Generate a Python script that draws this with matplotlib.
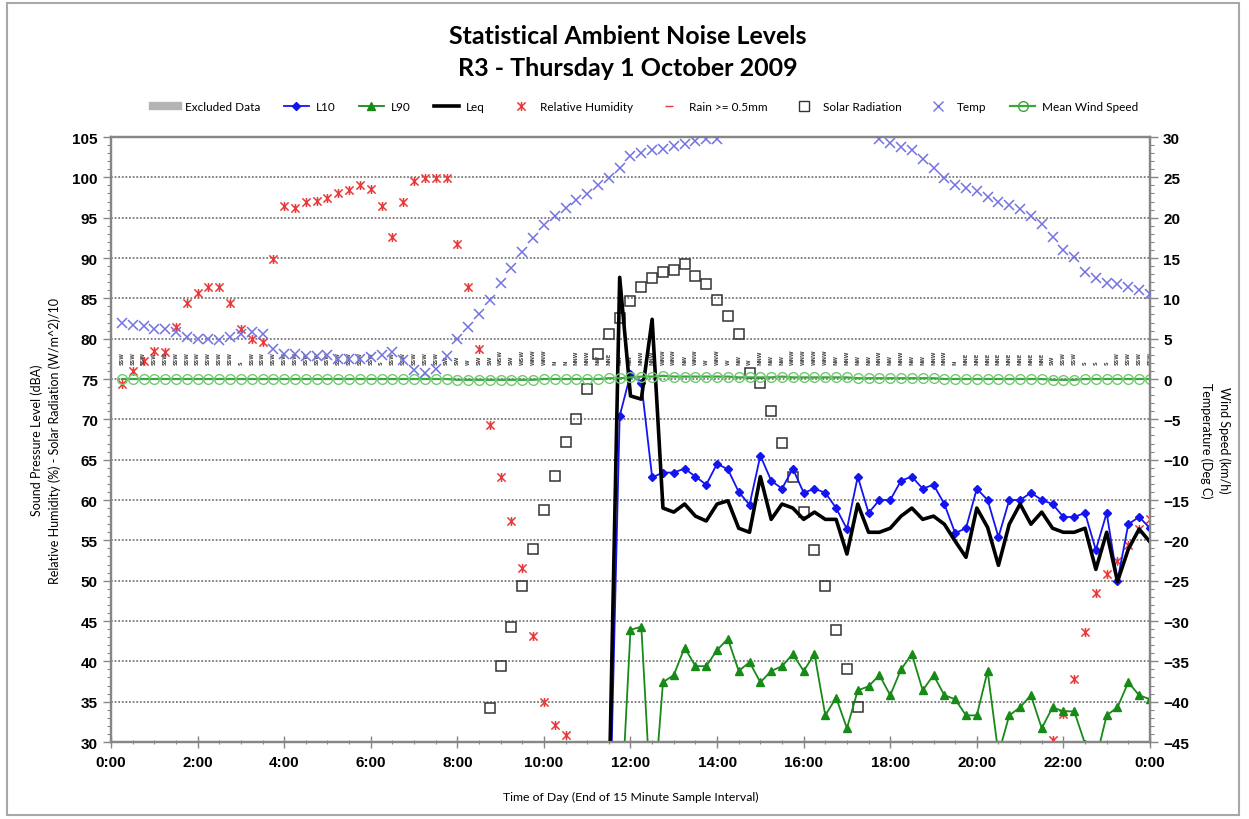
import numpy as np
import matplotlib
matplotlib.use("Agg")
import matplotlib.pyplot as plt
from matplotlib.lines import Line2D
from matplotlib.patches import Rectangle
from matplotlib.path import Path
from matplotlib.ticker import MultipleLocator, FuncFormatter

nan = np.nan

# end of each 15 minute sample interval, in hours (0:15 ... 24:00)
times = [0.25 * i for i in range(1, 97)]

l10 = [nan] * 45 + [15.0, 70.4, 75.6, 74.5,
    62.8, 63.4, 63.4, 63.9, 62.9, 61.9, 64.5, 63.8, 61.0, 59.4,
    65.5, 62.4, 61.4, 63.9, 60.9, 61.4, 60.9, 59.0, 56.4, 62.9,
    58.4, 60.0, 60.0, 62.4, 62.9, 61.4, 61.9, 59.5, 55.9, 56.5,
    61.4, 60.0, 55.4, 60.0, 60.0, 60.9, 60.0, 59.5, 57.9, 57.9,
    58.4, 53.8, 58.4, 50.0, 57.0, 57.9, 56.5]

leq = [nan] * 45 + [22.0, 87.6, 72.9, 72.5, 82.4,
    59.0, 58.5, 59.5, 58.0, 57.4, 59.5, 59.9, 56.5, 56.0,
    62.9, 57.6, 59.5, 59.0, 57.6, 58.5, 57.6, 57.6, 53.3, 59.5,
    56.0, 56.0, 56.5, 58.0, 59.0, 57.6, 58.0, 57.0, 54.9, 52.9,
    59.0, 56.6, 51.9, 57.0, 59.5, 57.0, 58.5, 56.5, 56.0, 56.0,
    56.5, 51.4, 56.0, 49.9, 53.9, 56.4, 54.8]

l90 = [nan] * 46 + [18.0, 43.9, 44.3, 20.0,
    37.4, 38.3, 41.7, 39.4, 39.4, 41.4, 42.8, 38.8, 39.9,
    37.4, 38.8, 39.4, 40.9, 38.8, 40.9, 33.3, 35.5, 31.7, 36.4,
    36.9, 38.3, 35.8, 39.0, 40.9, 36.4, 38.3, 35.8, 35.3, 33.3,
    33.3, 38.8, 28.5, 33.3, 34.3, 35.8, 31.7, 34.3, 33.8, 33.8,
    29.8, 27.8, 33.3, 34.3, 37.4, 35.8, 35.3]

humidity = [
    74.4, 76.0, 77.2, 78.5, 78.4, 81.5, 84.4, 85.7, 86.4, 86.4, 84.4, 81.2,
    80.0, 79.6, 89.9, 96.4, 96.2, 96.9, 97.1, 97.4, 98.0, 98.4, 99.0, 98.6,
    96.4, 92.6, 97.0, 99.5, 99.9, 99.9, 99.9, 91.7, 86.4, 78.7, 69.3, 62.8,
    57.4, 51.6, 43.2, 35.0, 32.1, 30.9,
    29.0, 28.0, 27.2, 26.5, 26.0, 25.5, 25.0, 24.6, 24.3, 24.0, 23.8, 23.6,
    23.5, 23.4, 23.3, 23.3, 23.4, 23.5, 23.6, 23.8, 24.0, 24.2, 24.4, 24.6,
    24.8, 25.0, 25.2, 25.4, 25.6, 25.8, 26.0, 26.1, 26.2, 26.3, 26.4, 26.5,
    26.6, 26.7, 26.8, 27.0, 27.2, 27.5, 27.8, 28.2,
    30.2, 33.5, 37.8, 43.6, 48.5, 50.8, 52.5, 54.4, 56.4, 57.6]

solar = [
    0, 0, 0, 0, 0, 0, 0, 0, 0, 0, 0, 0, 0, 0, 0, 0, 0, 0, 0, 0, 0, 0, 0, 0,
    0, 0, 0.5, 2.0, 4.5, 8.0, 12.0, 17.0, 22.0, 28.0, 34.2, 39.4, 44.2, 49.3,
    53.9, 58.7, 63.0, 67.2, 70.0, 73.7, 78.1, 80.6, 82.6, 84.7, 86.4, 87.5,
    88.3, 88.5, 89.2, 87.8, 86.8, 84.8, 82.8, 80.6, 75.7, 74.5, 71.0, 67.1,
    62.8, 58.5, 53.8, 49.3, 43.9, 39.1, 34.3, 28.0, 23.0, 18.0, 13.0, 9.0,
    5.0, 2.5, 1.0, 0.3, 0, 0, 0, 0, 0, 0, 0, 0, 0, 0, 0, 0, 0, 0, 0, 0, 0, 0]

temp = [
    6.9, 6.7, 6.6, 6.2, 6.2, 5.8, 5.2, 5.0, 5.0, 4.8, 5.2, 5.6,
    5.8, 5.6, 3.7, 3.1, 3.1, 2.9, 2.9, 3.0, 2.5, 2.5, 2.5, 2.7,
    3.0, 3.3, 2.4, 1.1, 0.8, 1.3, 2.9, 5.0, 6.4, 8.1, 9.8, 11.9,
    13.8, 15.7, 17.5, 19.1, 20.2, 21.2, 22.2, 22.9, 24.0, 24.9, 26.2, 27.6,
    28.0, 28.4, 28.5, 28.9, 29.1, 29.5, 29.7, 29.7,
    30.8, 31.2, 31.7, 32.1, 32.4, 32.6, 32.7, 32.6, 32.4, 32.1, 31.7, 31.3,
    30.9, 30.6,
    29.7, 29.3, 28.8, 28.4, 27.3, 26.2, 24.9, 24.0, 23.7, 23.3, 22.6, 22.0,
    21.6, 21.1, 20.2, 19.2, 17.6, 16.0, 15.1, 13.3, 12.5, 11.9, 11.8, 11.4,
    11.0, 10.5]

wind_speed = [
    0.0, 0.0, 0.0, 0.0, 0.0, 0.0, 0.0, 0.0, 0.0, 0.0, 0.0, 0.0,
    0.0, 0.0, 0.0, 0.0, 0.0, 0.0, 0.0, 0.0, 0.0, 0.0, 0.0, 0.0,
    0.0, 0.0, 0.0, 0.0, 0.0, 0.0, 0.0, -0.1, -0.1, -0.1, -0.1, -0.1,
    -0.1, -0.1, -0.1, 0.0, 0.0, 0.0, 0.0, 0.0, 0.0, 0.1, 0.1, 0.2,
    0.3, 0.3, 0.4, 0.3, 0.3, 0.3, 0.3, 0.3, 0.3, 0.2, 0.2, 0.2,
    0.2, 0.3, 0.2, 0.2, 0.2, 0.2, 0.2, 0.2, 0.1, 0.1, 0.1, 0.1,
    0.1, 0.1, 0.1, 0.1, 0.0, 0.0, 0.0, 0.0, 0.0, 0.0, 0.0, 0.0,
    0.0, 0.0, -0.1, -0.1, -0.1, 0.0, 0.0, 0.0, 0.0, 0.0, 0.0, 0.0]

wind_dir = (
    ["SSW"] * 11 + ["S"] +
    ["SSW", "SSW", "SSW", "SSW", "SSW", "SSW", "SSW", "SSW", "SSW",
     "SSW", "SSW", "SSW", "S", "SSW", "SSW", "SSW", "SSW", "SSW"] +
    ["SW", "SW", "W", "SW", "SW", "WSW", "SW", "WSW", "WNW", "WNW",
     "N", "N", "NNW", "NNW", "NW", "NNE", "NW"] +
    ["NW", "NNW", "NNW", "WNW", "WNW", "NW", "WNW", "W", "WNW", "W",
     "NW", "W", "NNW", "NW", "NW", "WNW", "WNW", "WNW", "WNW", "NW",
     "NNW", "NW", "NW", "NNW"] +
    ["NW", "NNW", "NW", "NW", "NNW", "NNW", "N", "NNE", "NNE", "NNE",
     "NNE", "NNE", "NNE", "NNE", "NNE", "SW", "SSW", "SSW", "S", "S",
     "S", "SSW", "SSW", "SSW", "SSW"])

rain_times = []
rain_vals = []

label_font = "Lato"
tick_font = "Liberation Sans"

# excel style "star" marker: an x with a vertical bar through it
star = Path([(-1, -1), (1, 1), (-1, 1), (1, -1), (0, -1.1), (0, 1.1)],
            [Path.MOVETO, Path.LINETO, Path.MOVETO, Path.LINETO, Path.MOVETO, Path.LINETO])

fig = plt.figure(figsize=(12.49, 8.2), dpi=100)
ax = fig.add_axes([0.0889, 0.0939, 0.8318, 0.7378])
ax2 = ax.twinx()

spine_col = "#868686"

ax.plot(times, l10, color="#1414f0", lw=1.3, marker="D", ms=4.5, zorder=4)
ax.plot(times, l90, color="#178a17", lw=1.3, marker="^", ms=6, zorder=4)
ax.plot(times, leq, color="black", lw=2.6, zorder=5)
ax.plot(times, humidity, ls="none", marker=star, ms=6.5, mew=1.1,
        color="#e83a3a", zorder=3)
ax.plot(rain_times, rain_vals, ls="none", marker="_", color="#e83a3a")
ax.plot(times, solar, ls="none", marker="s", ms=7, mfc="none", mec="#333333",
        mew=1.1, zorder=3)

for t, d in zip(times, wind_dir):
    ax.text(t, 76.8, d, rotation=90, ha="center", va="bottom", fontsize=3.7,
            color="#444444", fontfamily="DejaVu Sans", fontweight="bold")

ax2.plot(times, temp, ls="none", marker="x", ms=7, mew=1.1, color="#7272e0",
         zorder=3)
ax2.plot(times, wind_speed, color="#38a838", lw=1.6, marker="o", ms=7,
         mfc="none", mec="#72c872", mew=1.0, zorder=2)

ax.set_xlim(0, 24)
ax.set_ylim(30, 105)
ax2.set_ylim(-45, 30)

ax.xaxis.set_major_locator(MultipleLocator(2))
ax.xaxis.set_minor_locator(MultipleLocator(0.5))
ax.xaxis.set_major_formatter(FuncFormatter(lambda v, p: "%d:00" % (int(round(v)) % 24)))
ax.yaxis.set_major_locator(MultipleLocator(5))
ax.yaxis.set_minor_locator(MultipleLocator(1))
ax2.yaxis.set_major_locator(MultipleLocator(5))
ax2.yaxis.set_minor_locator(MultipleLocator(1))

ax.grid(axis="y", which="major", color="#7a7a7a", ls=(0, (1, 1)), lw=1.3)
ax.set_axisbelow(True)

for a in (ax, ax2):
    for s in a.spines.values():
        s.set_color(spine_col)
        s.set_linewidth(1.6)
    a.tick_params(which="major", length=6, width=1, color=spine_col, direction="out")
    a.tick_params(which="minor", length=3, width=0.8, color=spine_col, direction="out")
    for lab in a.get_xticklabels() + a.get_yticklabels():
        lab.set_fontfamily(tick_font)
        lab.set_fontweight("bold")
        lab.set_fontsize(11)
ax.tick_params(axis="x", which="both", direction="inout")
ax.tick_params(axis="x", which="major", length=8, pad=5)

ax.set_ylabel("Sound Pressure Level (dBA)\nRelative Humidity (%) - Solar Radiation (W/m^2)/10",
              fontsize=9, fontfamily=label_font, labelpad=8, linespacing=1.5)
ax2.set_ylabel("Wind Speed (km/h)\nTemperature (Deg C)", rotation=270,
               fontsize=9, fontfamily=label_font, labelpad=30, linespacing=1.5)
ax.set_xlabel("Time of Day (End of 15 Minute Sample Interval)", fontsize=8.8,
              fontfamily=label_font, labelpad=16)

fig.text(0.503, 0.955, "Statistical Ambient Noise Levels", ha="center", va="center",
         fontsize=18, fontweight="bold", fontfamily=label_font)
fig.text(0.503, 0.916, "R3 - Thursday 1 October 2009", ha="center", va="center",
         fontsize=18, fontweight="bold", fontfamily=label_font)

handles = [
    Line2D([], [], color="#b4b4b4", lw=6),
    Line2D([], [], color="#1414f0", lw=1.3, marker="D", ms=4.5),
    Line2D([], [], color="#178a17", lw=1.3, marker="^", ms=6),
    Line2D([], [], color="black", lw=2.6),
    Line2D([], [], ls="none", marker=star, ms=6.5, mew=1.1, color="#e83a3a"),
    Line2D([], [], ls="none", marker="_", ms=6, color="#e83a3a"),
    Line2D([], [], ls="none", marker="s", ms=7, mfc="none", mec="#333333"),
    Line2D([], [], ls="none", marker="x", ms=7, color="#7272e0"),
    Line2D([], [], color="#38a838", lw=1.6, marker="o", ms=7, mfc="none", mec="#38a838"),
]
names = ["Excluded Data", "L10", "L90", "Leq", "Relative Humidity", "Rain >= 0.5mm",
         "Solar Radiation", "Temp", "Mean Wind Speed"]
fig.legend(handles, names, loc="center", bbox_to_anchor=(0.517, 0.869), ncol=9,
           frameon=False, prop={"family": label_font, "size": 8.5},
           handlelength=2.1, columnspacing=2.0, handletextpad=0.6)

fig.patches.append(Rectangle((0.006, 0.005), 0.986, 0.99, transform=fig.transFigure,
                             fill=False, ec="#a8a8a8", lw=1.5))

fig.savefig("out.png", dpi=100)
